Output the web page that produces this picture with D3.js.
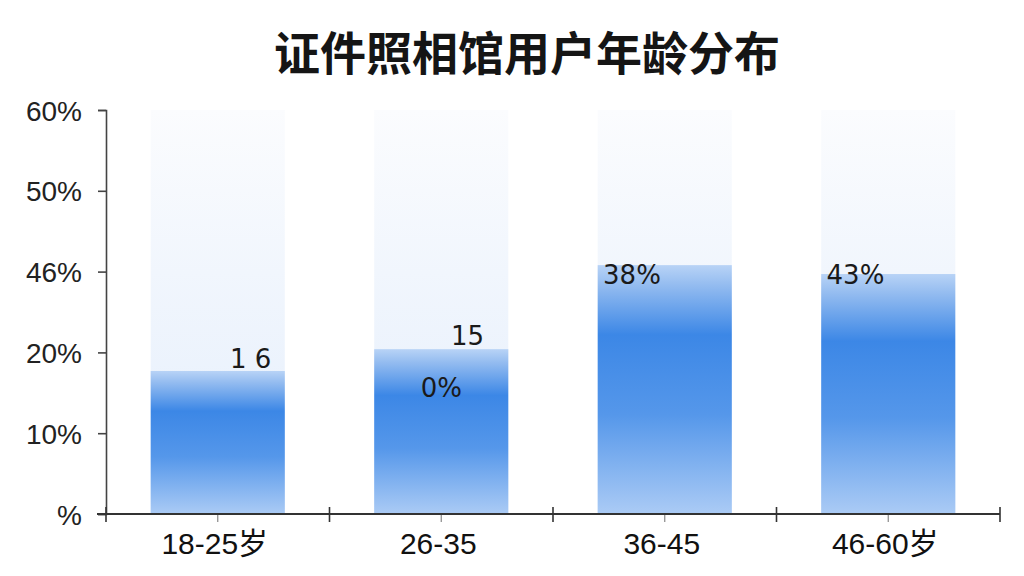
<!DOCTYPE html>
<html lang="zh">
<head>
<meta charset="UTF-8">
<title>证件照相馆用户年龄分布</title>
<script src="https://d3js.org/d3.v7.min.js"></script>
<style>
    body { margin: 0; background: #fff; }
    svg { display: block; }
    .title { font-family: "Noto Sans CJK SC", sans-serif; font-weight: 700; font-size: 46px; fill: #151515; }
    .y-axis text { font-family: "Liberation Sans", Arial, sans-serif; font-size: 28px; fill: #222; }
    .x-axis text { font-family: "Liberation Sans", "Noto Sans CJK SC", sans-serif; font-size: 30px; fill: #111; }
    .bar-label { font-family: "DejaVu Sans", sans-serif; font-size: 26px; fill: #1a1a1a; }
</style>
</head>
<body>
<div id="chart"></div>
<script>
    // data
    const categories = ["18-25岁", "26-35", "36-45", "46-60岁"];
    const values = [17.7, 20.4, 30.8, 29.7];
    const yTickValues = [0, 10, 20, 30, 40, 50];
    const yTickLabels = ["%", "10%", "20%", "46%", "50%", "60%"];
    const barLabels = ["1 6", "15", "38%", "43%"];
    const extraLabel = { category: "26-35", text: "0%" };

    const width = 1024, height = 576;
    const plot = { left: 106, right: 1000, top: 110, bottom: 514 };

    const svg = d3.select("#chart").append("svg")
        .attr("width", width)
        .attr("height", height);

    const defs = svg.append("defs");

    const barGrad = defs.append("linearGradient")
        .attr("id", "barGrad").attr("x1", 0).attr("y1", 0).attr("x2", 0).attr("y2", 1);
    [["0%", "#b8d3f6"], ["8%", "#94bcf0"], ["28%", "#3c87e6"], ["60%", "#5597ea"], ["100%", "#abcbf5"]]
        .forEach(s => barGrad.append("stop").attr("offset", s[0]).attr("stop-color", s[1]));

    const trackGrad = defs.append("linearGradient")
        .attr("id", "trackGrad").attr("x1", 0).attr("y1", 0).attr("x2", 0).attr("y2", 1);
    [["0%", "#fbfcfe"], ["40%", "#f1f6fd"], ["100%", "#e4eefc"]]
        .forEach(s => trackGrad.append("stop").attr("offset", s[0]).attr("stop-color", s[1]));

    const x = d3.scaleBand()
        .domain(categories)
        .range([plot.left, plot.right])
        .paddingInner(0.4)
        .paddingOuter(0.2);

    const y = d3.scaleLinear()
        .domain([0, 50])
        .range([plot.bottom, plot.top]);

    // title
    svg.append("text")
        .attr("class", "title")
        .attr("x", 527)
        .attr("y", 70)
        .attr("text-anchor", "middle")
        .text("证件照相馆用户年龄分布");

    // pale tracks behind the bars
    svg.selectAll(".track")
        .data(categories)
        .enter().append("rect")
        .attr("class", "track")
        .attr("x", d => x(d))
        .attr("y", y(50))
        .attr("width", x.bandwidth())
        .attr("height", y(0) - y(50))
        .attr("fill", "url(#trackGrad)");

    svg.selectAll(".bar")
        .data(categories)
        .enter().append("rect")
        .attr("class", "bar")
        .attr("x", d => x(d))
        .attr("y", (d, i) => y(values[i]))
        .attr("width", x.bandwidth())
        .attr("height", (d, i) => y(0) - y(values[i]))
        .attr("fill", "url(#barGrad)");

    // y axis
    const yAxis = svg.append("g")
        .attr("class", "y-axis")
        .attr("transform", `translate(${plot.left},0)`)
        .call(d3.axisLeft(y)
            .tickValues(yTickValues)
            .tickFormat((d, i) => yTickLabels[i])
            .tickSize(8)
            .tickPadding(16));
    yAxis.select(".domain").attr("stroke", "#444").attr("stroke-width", 1.6);
    yAxis.selectAll(".tick line").attr("stroke", "#444").attr("stroke-width", 1.6);
    yAxis.selectAll(".tick text").attr("dy", "0.36em");

    // x axis
    const xAxis = svg.append("g")
        .attr("class", "x-axis")
        .attr("transform", `translate(0,${plot.bottom})`)
        .call(d3.axisBottom(x).tickSize(8).tickPadding(8));
    xAxis.select(".domain").remove();
    xAxis.selectAll(".tick line").attr("stroke", "#888").attr("stroke-width", 1.2);
    xAxis.selectAll(".tick text").attr("dy", "0.8em").attr("dx", "-3");

    xAxis.append("line")
        .attr("x1", plot.left - 9).attr("x2", plot.right)
        .attr("y1", 0).attr("y2", 0)
        .attr("stroke", "#333").attr("stroke-width", 1.8);

    const boundaries = d3.range(categories.length + 1).map(i => plot.left + i * x.step());
    xAxis.selectAll(".boundary")
        .data(boundaries)
        .enter().append("line")
        .attr("class", "boundary")
        .attr("x1", d => d).attr("x2", d => d)
        .attr("y1", -7).attr("y2", 8)
        .attr("stroke", "#333").attr("stroke-width", 1.6);

    // bar value labels, placed the way the picture has them
    const labelPlacement = [
        { anchor: "end", dx: 0.9, dy: -3 },
        { anchor: "end", dx: 0.82, dy: -4 },
        { anchor: "start", dx: 0.04, dy: 19 },
        { anchor: "start", dx: 0.04, dy: 10 }
    ];

    svg.selectAll(".bar-label")
        .data(categories)
        .enter().append("text")
        .attr("class", "bar-label")
        .attr("text-anchor", (d, i) => labelPlacement[i].anchor)
        .attr("x", (d, i) => x(d) + x.bandwidth() * labelPlacement[i].dx)
        .attr("y", (d, i) => y(values[i]) + labelPlacement[i].dy)
        .text((d, i) => barLabels[i]);

    const ei = categories.indexOf(extraLabel.category);
    svg.append("text")
        .attr("class", "bar-label")
        .attr("text-anchor", "middle")
        .attr("x", x(extraLabel.category) + x.bandwidth() * 0.5)
        .attr("y", y(values[ei]) + 48)
        .text(extraLabel.text);
</script>
</body>
</html>
